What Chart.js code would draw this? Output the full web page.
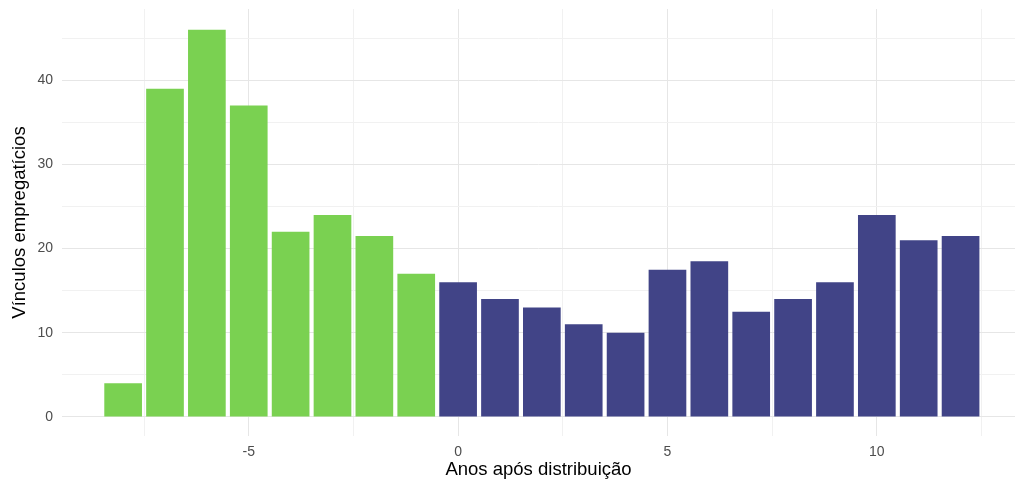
<!DOCTYPE html>
<html>
<head>
<meta charset="utf-8">
<script src="https://cdn.jsdelivr.net/npm/chart.js@4"></script>
<style>
  html, body { margin: 0; padding: 0; background: #fff; }
  #wrap { width: 1015px; height: 483px; }
</style>
</head>
<body>
<div id="wrap"><canvas id="myChart" width="1015" height="483"></canvas></div>
<script>
// anos relativos à distribuição
let anos = [-8, -7, -6, -5, -4, -3, -2, -1, 0, 1, 2, 3, 4, 5, 6, 7, 8, 9, 10, 11, 12];
let vinculos = [4, 39, 46, 37, 22, 24, 21.5, 17, 16, 14, 13, 11, 10, 17.5, 18.5, 12.5, 14, 16, 24, 21, 21.5];

let xTickLabels = [-5, 0, 5, 10];
let yTickLabels = [0, 10, 20, 30, 40];

const verde = '#7AD151';
const azul = '#414487';

function renderChart() {
    const ctx = document.getElementById('myChart');

    let pontos = anos.map((a, i) => ({ x: a, y: vinculos[i] }));
    let cores = anos.map(a => a < 0 ? verde : azul);

    new Chart(ctx, {
        type: 'bar',
        data: {
            datasets: [{
                data: pontos,
                backgroundColor: cores,
                borderWidth: 0,
                barPercentage: 0.9,
                categoryPercentage: 1.0
            }]
        },
        options: {
            responsive: false,
            animation: false,
            layout: { padding: { top: 9, right: 0, left: 0, bottom: 0 } },
            plugins: {
                legend: { display: false },
                tooltip: { enabled: false }
            },
            scales: {
                x: {
                    type: 'linear',
                    min: -9.46,
                    max: 13.3,
                    offset: false,
                    border: { display: false },
                    grid: {
                        offset: false,
                        drawTicks: false,
                        color: c => xTickLabels.includes(c.tick.value) ? '#e6e6e6' : '#f1f1f1',
                        lineWidth: 1
                    },
                    ticks: {
                        stepSize: 2.5,
                        includeBounds: false,
                        autoSkip: false,
                        maxRotation: 0,
                        padding: 8,
                        color: '#4d4d4d',
                        font: { family: 'Liberation Sans', size: 14 },
                        callback: v => xTickLabels.includes(v) ? String(v) : ''
                    },
                    title: {
                        display: true,
                        text: 'Anos após distribuição',
                        color: '#000',
                        font: { family: 'Liberation Sans', size: 18.5 },
                        padding: { top: 0, bottom: 2 }
                    },
                    afterFit: s => { s.height = 47; s.paddingLeft = 0; s.paddingRight = 0; }
                },
                y: {
                    min: -2.26,
                    max: 48.46,
                    border: { display: false },
                    grid: {
                        drawTicks: false,
                        color: c => yTickLabels.includes(c.tick.value) ? '#e6e6e6' : '#f1f1f1',
                        lineWidth: 1
                    },
                    ticks: {
                        stepSize: 5,
                        includeBounds: false,
                        autoSkip: false,
                        padding: 9,
                        color: '#4d4d4d',
                        font: { family: 'Liberation Sans', size: 14 },
                        callback: v => yTickLabels.includes(v) ? String(v) : ''
                    },
                    title: {
                        display: true,
                        text: 'Vínculos empregatícios',
                        color: '#000',
                        font: { family: 'Liberation Sans', size: 18.5 },
                        padding: { top: 9, bottom: 0 }
                    },
                    afterFit: s => { s.width = 62; s.paddingTop = 0; s.paddingBottom = 0; }
                }
            }
        }
    });
}

renderChart();
</script>
</body>
</html>
